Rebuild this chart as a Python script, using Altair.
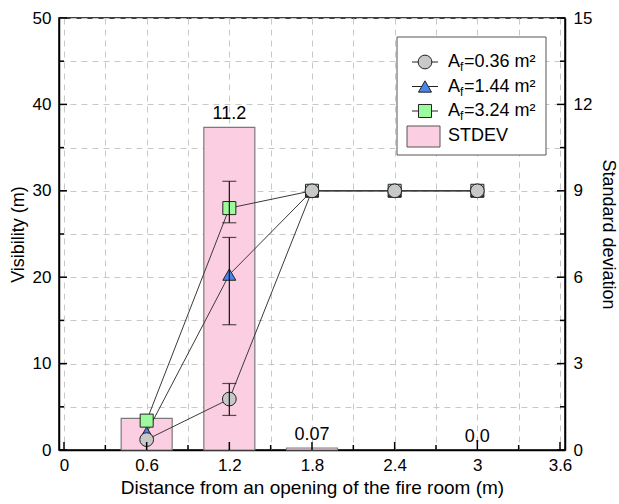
import altair as alt
import pandas as pd

# Visibility measured at each distance, one list per opening area
distance = [0.6, 1.2, 1.8, 2.4, 3.0]
vis_a036 = [1.2, 5.9, 30.0, 30.0, 30.0]
vis_a144 = [2.0, 20.3, 30.0, 30.0, 30.0]
vis_a324 = [3.4, 28.0, 30.0, 30.0, 30.0]
areas = [0.36, 1.44, 3.24]

# Scatter ranges at 1.2 m
err_x = [1.2, 1.2, 1.2]
err_low = [4.0, 14.5, 26.3]
err_high = [7.7, 24.6, 31.1]

# Standard deviation across the three areas
stdev = [1.1, 11.2, 0.07, 0.0, 0.0]
stdev_text = ["", "11.2", "0.07", "", "0.0"]

# Axis tick positions (every other tick is a labelled major tick)
x_ticks = [round(0.3 * i, 1) for i in range(13)]
yl_ticks = [5 * i for i in range(11)]
yr_ticks = [round(1.5 * i, 1) for i in range(11)]

FONT = "Liberation Sans"
W, H = 506, 432
MAJOR, MINOR = 8, 5
series_names = ["A036", "A144", "A324"]
series_vals = [vis_a036, vis_a144, vis_a324]
shapes = {"A036": "circle", "A144": "triangle-up", "A324": "square"}
fills = {"A036": "#c8c8c8", "A144": "#4a86e8", "A324": "#9cfc9c"}
sizes = {"A036": 190, "A144": 170, "A324": 170}
PINK = "#fbcfe1"

vis_df = pd.DataFrame(
    [
        {"series": s, "d": d, "v": v}
        for s, vals in zip(series_names, series_vals)
        for d, v in zip(distance, vals)
    ]
)
err_df = pd.DataFrame({"d": err_x, "lo": err_low, "hi": err_high})
sd_df = pd.DataFrame({"d": distance, "sd": stdev, "txt": stdev_text})


def tick_frame(values):
    return pd.DataFrame({"t": values, "major": [i % 2 == 0 for i in range(len(values))]})


x_tick_df = tick_frame(x_ticks)
yl_tick_df = tick_frame(yl_ticks)
yr_tick_df = tick_frame(yr_ticks)

x_scale = alt.Scale(domain=[0, 3.6], nice=False, zero=False)
yl_scale = alt.Scale(domain=[0, 50], nice=False)
yr_scale = alt.Scale(domain=[0, 15], nice=False)

x_axis = alt.Axis(
    values=x_ticks,
    labelExpr="round(datum.value * 10) % 6 == 0 ? format(datum.value, '~g') : ''",
    title="Distance from an opening of the fire room (m)",
    titleFontSize=19,
    grid=True,
    gridDash=[6, 5],
    gridColor="#c8c8c8",
    ticks=False,
    labelPadding=7,
    titlePadding=5,
)
yl_axis = alt.Axis(
    orient="left",
    values=yl_ticks,
    labelExpr="datum.value % 10 == 0 ? datum.label : ''",
    title="Visibility (m)",
    grid=True,
    gridDash=[6, 5],
    gridColor="#c8c8c8",
    ticks=False,
    labelPadding=8,
    titlePadding=5,
)
yr_axis = alt.Axis(
    orient="right",
    values=yr_ticks,
    labelExpr="round(datum.value * 10) % 30 == 0 ? format(datum.value, '~g') : ''",
    title="Standard deviation",
    grid=False,
    ticks=False,
    labelPadding=8,
    titlePadding=7,
)

X = alt.X("d:Q", scale=x_scale, axis=x_axis)


def inward_ticks(df, kind, scale):
    """Short rules pointing into the plot from one axis line."""
    out = []
    for major, length in ((True, MAJOR), (False, MINOR)):
        base = alt.Chart(df).transform_filter(
            alt.datum.major if major else ~alt.datum.major
        ).mark_rule(color="#000", strokeWidth=1.5)
        if kind == "bottom":
            enc = dict(x=alt.X("t:Q", scale=scale), y=alt.value(H), y2=alt.value(H - length))
        elif kind == "left":
            enc = dict(y=alt.Y("t:Q", scale=scale), x=alt.value(0), x2=alt.value(length))
        else:
            enc = dict(y=alt.Y("t:Q", scale=scale), x=alt.value(W), x2=alt.value(W - length))
        out.append(base.encode(**enc))
    return out


# Standard deviation bars on the right axis (zero bars are only labelled)
bars = (
    alt.Chart(sd_df)
    .transform_filter(alt.datum.sd > 0)
    .mark_bar(size=51, fill=PINK, stroke="#7a7a7a", strokeWidth=1.2)
    .encode(x=X, y=alt.Y("sd:Q", scale=yr_scale, axis=yr_axis))
)
bar_text = alt.Chart(sd_df).mark_text(
    font=FONT, fontSize=18, baseline="bottom", dy=-4, color="#000"
).encode(x=alt.X("d:Q"), y=alt.Y("sd:Q"), text="txt:N")
sd_layer = alt.layer(bars, bar_text, *inward_ticks(yr_tick_df, "right", yr_scale))

# Visibility lines, markers and scatter ranges on the left axis
Y = alt.Y("v:Q", scale=yl_scale, axis=yl_axis)
lines = alt.Chart(vis_df).mark_line(color="#3a3a3a", strokeWidth=1).encode(
    x=X, y=Y, detail="series:N"
)
point_layers = []
for s in ["A324", "A144", "A036"]:
    point_layers.append(
        alt.Chart(vis_df)
        .transform_filter(alt.datum.series == s)
        .mark_point(
            shape=shapes[s], filled=True, fill=fills[s], stroke="#222",
            strokeWidth=1, size=sizes[s], opacity=1,
        )
        .encode(x=alt.X("d:Q"), y=alt.Y("v:Q"))
    )
err_rule = alt.Chart(err_df).mark_rule(color="#111", strokeWidth=1.2).encode(
    x=alt.X("d:Q"), y=alt.Y("lo:Q"), y2="hi:Q"
)
err_cap_lo = alt.Chart(err_df).mark_tick(
    orient="horizontal", size=14, thickness=1.2, color="#111"
).encode(x=alt.X("d:Q"), y=alt.Y("lo:Q"))
err_cap_hi = alt.Chart(err_df).mark_tick(
    orient="horizontal", size=14, thickness=1.2, color="#111"
).encode(x=alt.X("d:Q"), y=alt.Y("hi:Q"))
vis_layer = alt.layer(
    lines, *point_layers, err_rule, err_cap_lo, err_cap_hi,
    *inward_ticks(yl_tick_df, "left", yl_scale),
    *inward_ticks(x_tick_df, "bottom", x_scale),
)

# Legend box drawn in the upper right corner of the plot
one = pd.DataFrame({"k": [0]})
legend = [
    alt.Chart(one).mark_rect(fill="white", stroke="#555", strokeWidth=1).encode(
        x=alt.value(338), x2=alt.value(487), y=alt.value(19), y2=alt.value(137)
    )
]
row_y = [44, 68.5, 93]
for s, a, yy in zip(series_names, areas, row_y):
    legend.append(
        alt.Chart(one).mark_rule(color="#222", strokeWidth=1).encode(
            x=alt.value(353), x2=alt.value(379), y=alt.value(yy)
        )
    )
    legend.append(
        alt.Chart(one).mark_point(
            shape=shapes[s], filled=True, fill=fills[s], stroke="#222",
            strokeWidth=1, size=sizes[s], opacity=1,
        ).encode(x=alt.value(366), y=alt.value(yy))
    )
    legend.append(
        alt.Chart(one).mark_text(font=FONT, fontSize=18, align="left", baseline="middle").encode(
            x=alt.value(389), y=alt.value(yy), text=alt.value("A")
        )
    )
    legend.append(
        alt.Chart(one).mark_text(font=FONT, fontSize=12, align="left", baseline="middle", dy=5).encode(
            x=alt.value(401), y=alt.value(yy), text=alt.value("f")
        )
    )
    legend.append(
        alt.Chart(one).mark_text(font=FONT, fontSize=18, align="left", baseline="middle").encode(
            x=alt.value(405), y=alt.value(yy), text=alt.value(f"={a:.2f} m²")
        )
    )
legend.append(
    alt.Chart(one).mark_rect(fill=PINK, stroke="#555", strokeWidth=1).encode(
        x=alt.value(348), x2=alt.value(381), y=alt.value(108), y2=alt.value(129)
    )
)
legend.append(
    alt.Chart(one).mark_text(font=FONT, fontSize=18, align="left", baseline="middle").encode(
        x=alt.value(389), y=alt.value(118), text=alt.value("STDEV")
    )
)

chart = (
    alt.layer(sd_layer, vis_layer, *legend)
    .resolve_scale(y="independent")
    .properties(
        width=W,
        height=H,
        autosize=alt.AutoSizeParams(type="none"),
        padding={"left": 59, "top": 18, "right": 54, "bottom": 54},
        background="white",
    )
    .configure_view(stroke="#000", strokeWidth=1.5)
    .configure_axis(
        labelFont=FONT,
        titleFont=FONT,
        labelFontSize=17,
        titleFontSize=18,
        titleFontWeight="normal",
        labelColor="#000",
        titleColor="#000",
        domainColor="#000",
        domainWidth=1.5,
    )
)

chart.save("out.html", embed_options={"renderer": "svg", "actions": False})
